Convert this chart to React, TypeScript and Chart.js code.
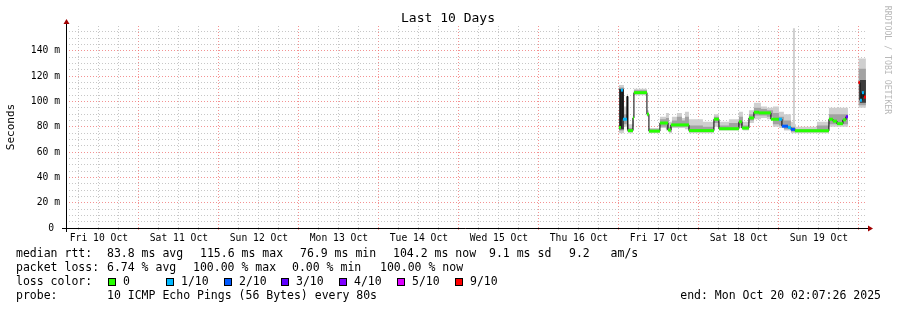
import React, { useEffect, useRef } from 'react';
import { Chart, registerables } from 'chart.js';

Chart.register(...registerables);

// ---- time axis (hours since Fri 10 Oct 00:00) ----
const START_H = 2.12; // Fri 10 Oct 02:07
const END_H = 242.12; // Mon 20 Oct 02:07
const dayLabels = ['Fri 10 Oct', 'Sat 11 Oct', 'Sun 12 Oct', 'Mon 13 Oct', 'Tue 14 Oct', 'Wed 15 Oct', 'Thu 16 Oct', 'Fri 17 Oct', 'Sat 18 Oct', 'Sun 19 Oct'];
const yMajorLabels = ['0 ', '20 m', '40 m', '60 m', '80 m', '100 m', '120 m', '140 m'];
const Y_MAX = 159.7;

// ---- median rtt runs (ms) with loss colour index ----
const runStart = [168.0, 168.6, 169.2, 170.4, 170.7, 172.2, 172.5, 176.4, 177.0, 180.3, 182.7, 183.6, 189.0, 196.5, 198.0, 204.0, 204.9, 207.0, 208.5, 210.0, 213.6, 216.0, 216.9, 218.7, 219.6, 220.8, 231.0, 232.2, 233.4, 235.2, 236.1, 239.85, 240.3, 240.9, 241.5];
const runEnd = [168.6, 169.2, 170.4, 170.7, 172.2, 172.5, 176.4, 177.0, 180.3, 182.7, 183.6, 189.0, 196.5, 198.0, 204.0, 204.9, 207.0, 208.5, 210.0, 213.6, 216.0, 216.9, 218.7, 219.6, 220.8, 231.0, 232.2, 233.4, 235.2, 236.1, 236.7, 240.3, 240.9, 241.5, 242.1];
const medianMs = [79.5, 109, 86, 104, 77, 87, 107, 90, 76.6, 83, 77.5, 81.5, 77, 86, 78.5, 84, 79, 87, 91.5, 91, 86, 86, 80.5, 79.5, 78, 76.8, 86, 84.5, 82.5, 85.5, 88, 115, 101, 107, 103.5];
const lossIdx = [0, 1, 1, -1, 0, 0, 0, 0, 0, 0, 0, 0, 0, 0, 0, 0, 0, 0, 0, 0, 0, 1, 2, 1, 2, 0, 0, 0, 0, 0, 3, 6, 1, 1, 6];

// ---- smoke (ms) ----
const smokeHours = [168.0, 169.5, 170.4, 170.7, 172.2, 172.5, 176.4, 177.0, 180.3, 182.1, 183.0, 183.9, 185.4, 186.9, 187.8, 189.0, 193.2, 196.5, 198.0, 201.0, 204.0, 205.2, 207.0, 208.5, 210.6, 212.4, 214.2, 216.0, 217.5, 219.6, 220.2, 220.8, 221.1, 227.4, 231.0, 236.7, 239.85];
const smokeLo = [75, 80, 76, 75, 77, 105, 88, 75, 79, 77, 75, 79, 79, 79, 78, 75, 75, 80, 77, 77, 79, 77, 83, 86, 87, 86, 80, 79, 77, 75, 75, 75, 75, 75, 80, null, 95];
const smokeHi = [113, 96, 106, 82, 90, 110, 93, 79, 88, 91, 84, 88, 91, 87, 92, 86, 84, 90, 84, 86, 92, 84, 93, 99, 96, 95, 96, 92, 90, 84, 158, 82, 80, 84, 95, null, 134];
const smokeMidLo = [77, 82, 78, 76, 80, 106, 89, 76, 80, 78, 76, 80, 80, 80, 80, 76, 76, 83, 78, 78, 81, 78, 85, 89, 89, 88, 82, 81, 78, 76, 76, 76, 76, 76, 82, null, 97];
const smokeMidHi = [111, 90, 104, 79, 88, 109, 91, 78, 86, 87, 80, 85, 88, 85, 88, 81, 80, 88, 81, 83, 88, 81, 90, 95, 94, 93, 91, 88, 85, 80, 80, 79, 78, 81, 90, null, 126];
const coreHours = [168.0, 169.5, 170.4, 170.7, 240.3];
const coreLo = [78, null, 78, null, 99];
const coreHi = [110, null, 104, null, 117];

const LOSS_COLORS = ['#26ff00', '#00b8ff', '#0059ff', '#5e00ff', '#7e00ff', '#dd00ff', '#ff0000'];
const lossLegend = ['0', '1/10', '2/10', '3/10', '4/10', '5/10', '9/10'];

const TITLE = 'Last 10 Days';
const Y_TITLE = 'Seconds';
const WATERMARK = 'RRDTOOL / TOBI OETIKER';
const rttItems = ['median rtt:', '83.8 ms avg', '115.6 ms max', '76.9 ms min', '104.2 ms now', '9.1 ms sd', '9.2   am/s'];
const lossItems = ['packet loss:', '6.74 % avg', '100.00 % max', '0.00 % min', '100.00 % now'];
const PROBE = '10 ICMP Echo Pings (56 Bytes) every 80s';
const END_TEXT = 'end: Mon Oct 20 02:07:26 2025';

const GRID = 'rgba(175,175,175,0.7)';
const MGRID = 'rgba(240,100,100,0.7)';
const MONO = 'DejaVu Sans Mono';

function stepPoints(hours: number[], values: (number | null)[], endH: number) {
  const pts: { x: number; y: number | null }[] = [];
  for (let i = 0; i < hours.length; i++) {
    if (values[i] == null) {
      pts.push({ x: hours[i], y: values[i - 1] as number });
      pts.push({ x: hours[i], y: null });
    } else {
      pts.push({ x: hours[i], y: values[i] });
    }
  }
  pts.push({ x: endH, y: values[values.length - 1] });
  return pts;
}

function medianLine() {
  const pts: { x: number; y: number | null }[] = [];
  for (let i = 0; i < runStart.length; i++) {
    pts.push({ x: runStart[i], y: medianMs[i] });
    const next = runStart[i + 1];
    if (next === undefined || Math.abs(next - runEnd[i]) > 1e-6) {
      pts.push({ x: runEnd[i], y: medianMs[i] });
      pts.push({ x: runEnd[i], y: null });
    }
  }
  return pts;
}

function colorSegments() {
  const pts: { x: number; y: number | null }[] = [];
  for (let i = 0; i < runStart.length; i++) {
    pts.push({ x: runStart[i], y: medianMs[i] });
    pts.push({ x: runEnd[i], y: medianMs[i] });
    pts.push({ x: runEnd[i], y: null });
  }
  return pts;
}

const decor = {
  id: 'decor',
  afterDraw(chart: any) {
    const ctx: CanvasRenderingContext2D = chart.ctx;
    const { left, right, top, bottom } = chart.chartArea;
    ctx.save();
    // axes
    ctx.strokeStyle = '#000';
    ctx.lineWidth = 1;
    ctx.beginPath();
    ctx.moveTo(left + 0.5, bottom + 4);
    ctx.lineTo(left + 0.5, top - 3);
    ctx.moveTo(left - 4, bottom + 0.5);
    ctx.lineTo(right + 3, bottom + 0.5);
    ctx.stroke();
    // arrows
    ctx.fillStyle = '#a00000';
    ctx.beginPath();
    ctx.moveTo(left + 0.5, top - 7);
    ctx.lineTo(left - 2.5, top - 2);
    ctx.lineTo(left + 3.5, top - 2);
    ctx.closePath();
    ctx.fill();
    ctx.beginPath();
    ctx.moveTo(right + 7, bottom + 0.5);
    ctx.lineTo(right + 2, bottom - 2.5);
    ctx.lineTo(right + 2, bottom + 3.5);
    ctx.closePath();
    ctx.fill();

    // title
    ctx.fillStyle = '#000';
    ctx.font = `13px ${MONO}`;
    ctx.textAlign = 'center';
    ctx.textBaseline = 'middle';
    ctx.fillText(TITLE, 448, 19);

    // y title
    ctx.save();
    ctx.translate(11, (top + bottom) / 2);
    ctx.rotate(-Math.PI / 2);
    ctx.font = `11px ${MONO}`;
    ctx.fillText(Y_TITLE, 0, 0);
    ctx.restore();

    // watermark
    ctx.save();
    ctx.translate(887, 60);
    ctx.rotate(Math.PI / 2);
    ctx.font = `8.2px ${MONO}`;
    ctx.fillStyle = '#b8b8b8';
    ctx.fillText(WATERMARK, 0, 0);
    ctx.restore();

    // legend
    ctx.font = `11.5px ${MONO}`;
    ctx.textAlign = 'left';
    ctx.fillStyle = '#000';
    const rttX = [16, 107, 200, 300, 393, 489, 569];
    rttItems.forEach((t, i) => ctx.fillText(t, rttX[i], 254));
    const lossX = [16, 107, 193, 292, 380];
    lossItems.forEach((t, i) => ctx.fillText(t, lossX[i], 268));
    ctx.fillText('loss color:', 16, 282);
    lossLegend.forEach((t, i) => {
      const bx = Math.round(108 + i * 57.8);
      ctx.fillStyle = LOSS_COLORS[i];
      ctx.fillRect(bx, 278, 8, 8);
      ctx.strokeStyle = '#000';
      ctx.strokeRect(bx + 0.5, 278.5, 7, 7);
      ctx.fillStyle = '#000';
      ctx.fillText(t, bx + 15, 282);
    });
    ctx.fillText('probe:', 16, 296);
    ctx.fillText(PROBE, 107, 296);
    ctx.textAlign = 'right';
    ctx.fillText(END_TEXT, 881, 296);
    ctx.restore();
  },
};

export default function App() {
  const ref = useRef<HTMLCanvasElement>(null);
  useEffect(() => {
    document.body.style.margin = '0';
    const canvas = ref.current!;
    const base = { pointRadius: 0, pointHoverRadius: 0, spanGaps: false };
    const datasets: any[] = [
      { ...base, data: stepPoints(smokeHours, smokeHi, 242.1), stepped: true, borderWidth: 0, borderColor: 'rgba(0,0,0,0)', backgroundColor: '#cfcfcf', fill: '+1', order: 30 },
      { ...base, data: stepPoints(smokeHours, smokeLo, 242.1), stepped: true, borderWidth: 0, borderColor: 'rgba(0,0,0,0)', fill: false, order: 30 },
      { ...base, data: stepPoints(smokeHours, smokeMidHi, 242.1), stepped: true, borderWidth: 0, borderColor: 'rgba(0,0,0,0)', backgroundColor: '#a2a2a2', fill: '+1', order: 20 },
      { ...base, data: stepPoints(smokeHours, smokeMidLo, 242.1), stepped: true, borderWidth: 0, borderColor: 'rgba(0,0,0,0)', fill: false, order: 20 },
      { ...base, data: stepPoints(coreHours, coreHi, 242.1), stepped: true, borderWidth: 0, borderColor: 'rgba(0,0,0,0)', backgroundColor: '#3c3c3c', fill: '+1', order: 10 },
      { ...base, data: stepPoints(coreHours, coreLo, 242.1), stepped: true, borderWidth: 0, borderColor: 'rgba(0,0,0,0)', fill: false, order: 10 },
      { ...base, data: medianLine(), stepped: true, borderWidth: 1, borderColor: '#000', fill: false, order: 2 },
      {
        ...base,
        data: colorSegments(),
        borderWidth: 3,
        borderCapStyle: 'butt',
        borderColor: '#26ff00',
        fill: false,
        order: 1,
        segment: {
          borderColor: (c: any) => {
            const li = lossIdx[Math.floor(c.p0DataIndex / 3)];
            return li >= 0 ? LOSS_COLORS[li] : 'rgba(0,0,0,0)';
          },
        },
      },
    ];

    const chart = new Chart(canvas, {
      type: 'line',
      data: { datasets },
      plugins: [decor],
      options: {
        responsive: false,
        animation: false,
        devicePixelRatio: 1,
        events: [],
        layout: { padding: { left: 0, top: 26, right: 31, bottom: 62 } },
        plugins: { legend: { display: false }, tooltip: { enabled: false }, title: { display: false } },
        elements: { line: { tension: 0 } },
        scales: {
          x: {
            type: 'linear',
            min: START_H,
            max: END_H,
            afterBuildTicks: (s: any) => {
              const t = [];
              for (let h = 6; h <= 240; h += 6) t.push({ value: h });
              s.ticks = t;
            },
            afterFit: (s: any) => { s.height = 20; },
            border: { display: false, dash: [1, 2] },
            grid: {
              color: (c: any) => (c.tick && Math.round(c.tick.value) % 24 === 0 ? MGRID : GRID),
              lineWidth: 1,
              drawTicks: true,
              tickLength: 2,
            },
            ticks: {
              autoSkip: false,
              maxRotation: 0,
              minRotation: 0,
              padding: 3,
              color: '#000',
              font: { family: MONO, size: 9.7 },
              callback: (v: any) => {
                const h = Math.round(Number(v));
                return h % 24 === 12 ? dayLabels[(h - 12) / 24] : '';
              },
            },
          },
          y: {
            type: 'linear',
            min: 0,
            max: Y_MAX,
            afterBuildTicks: (s: any) => {
              const t = [];
              for (let v = 0; v <= 155; v += 5) t.push({ value: v });
              s.ticks = t;
            },
            afterFit: (s: any) => { s.width = 66; },
            border: { display: false, dash: [1, 2] },
            grid: {
              color: (c: any) => (c.tick && Math.round(c.tick.value) % 20 === 0 ? MGRID : GRID),
              lineWidth: 1,
              drawTicks: false,
            },
            ticks: {
              autoSkip: false,
              padding: 6,
              color: '#000',
              font: { family: MONO, size: 9.7 },
              callback: (v: any) => {
                const n = Math.round(Number(v));
                return n % 20 === 0 ? yMajorLabels[n / 20] : '';
              },
            },
          },
        },
      } as any,
    });
    return () => chart.destroy();
  }, []);

  return (
    <div style={{ position: 'absolute', left: 0, top: 0, width: 897, height: 310 }}>
      <canvas ref={ref} width={897} height={310} style={{ display: 'block', width: 897, height: 310 }} />
    </div>
  );
}
